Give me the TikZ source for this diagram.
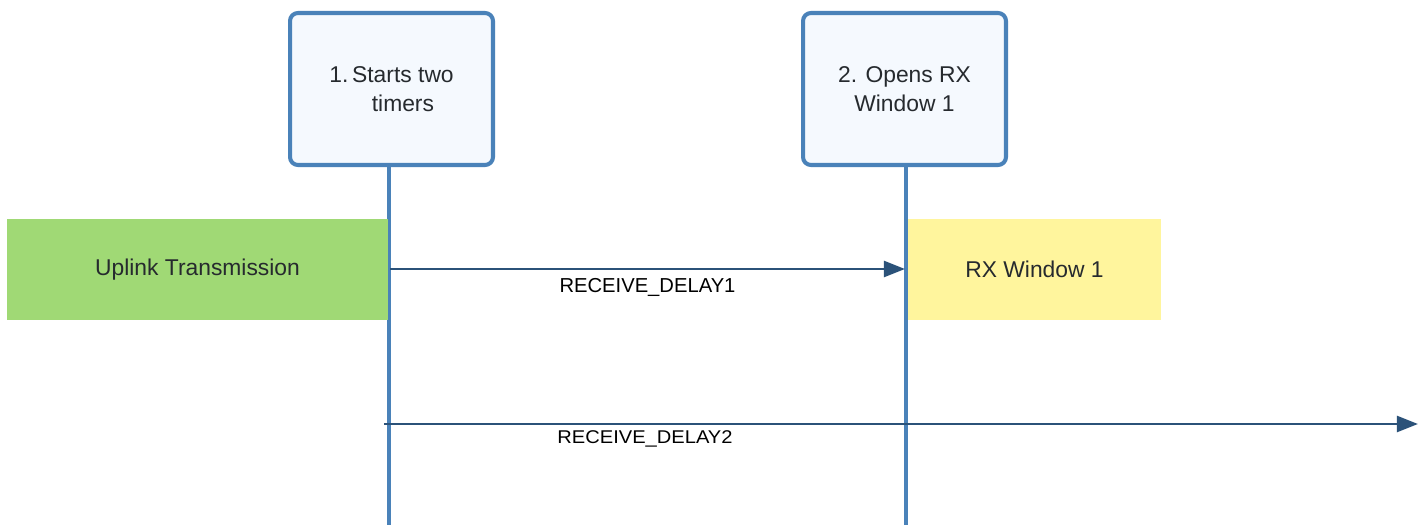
\documentclass[tikz,border=0pt]{standalone}
\usepackage{fontspec}
\setmainfont{Liberation Sans}
\usetikzlibrary{arrows.meta}
\definecolor{lifeblue}{HTML}{4A82B9}
\definecolor{boxfill}{HTML}{F5F9FE}
\definecolor{arrowblue}{HTML}{2B5279}
\definecolor{upgreen}{HTML}{A0D975}
\definecolor{rxyellow}{HTML}{FFF59D}
\definecolor{textgray}{HTML}{262A2E}
\tikzset{
  eventbox/.style={draw=lifeblue, line width=2.3pt, fill=boxfill, rounded corners=4.5pt,
    minimum width=4.06cm, minimum height=3.04cm, align=center, font=\fontsize{13}{16.5}\selectfont, text=textgray},
  lifeline/.style={lifeblue, line width=2pt},
  slot/.style={minimum height=2.02cm, inner sep=0pt, font=\fontsize{13}{16}\selectfont, text=textgray},
  timer/.style={arrowblue, line width=1.7pt, -{Triangle[length=12pt,width=9pt]}},
  delay/.style={font=\fontsize{11.5}{14}\selectfont, text=black}
}
\begin{document}
\begin{tikzpicture}[x=0.02cm, y=-0.02cm]
  \useasboundingbox (0,0) rectangle (1423,527);

  % the two events
  \node[eventbox] (start) at (391.5,89) {1.\,Starts two\\\hspace{1em}timers};
  \node[eventbox] (open) at (904.5,89) {2. Opens RX\\Window 1};

  % lifelines
  \coordinate (startend) at (389,525);
  \coordinate (openend) at (906,525);
  \draw[lifeline] (start.south -| startend) -- (startend);
  \draw[lifeline] (open.south -| openend) -- (openend);

  % transmission and receive window
  \node[slot, fill=upgreen, minimum width=7.62cm] (uplink) at (197.5,269.5) {Uplink Transmission};
  \node[slot, fill=rxyellow, minimum width=5.06cm] (rxwin) at (1034.5,269.5) {RX Window 1};

  % timers
  \coordinate (d1start) at (390,269);
  \coordinate (d1end) at (905,269);
  \draw[timer] (d1start) -- (d1end) node[delay, pos=0.5, below=1pt] (delay1) {RECEIVE\_DELAY1};

  \coordinate (d2start) at (384,424);
  \coordinate (d2end) at (1418,424);
  \draw[timer] (d2start) -- (d2end);
  \node[delay, font=\fontsize{10.5}{13}\selectfont, xscale=1.09] (delay2) at (645,439) {RECEIVE\_DELAY2};
\end{tikzpicture}
\end{document}
